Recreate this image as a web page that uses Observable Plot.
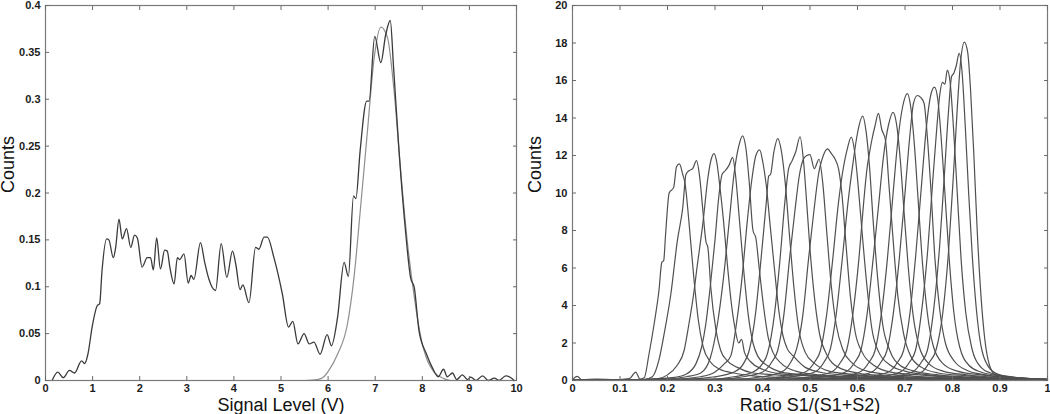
<!DOCTYPE html>
<html><head><meta charset="utf-8">
<script src="https://cdn.jsdelivr.net/npm/d3@7"></script>
<script src="https://cdn.jsdelivr.net/npm/@observablehq/plot@0.6"></script>
<style>
body{margin:0;background:#fff;}
#wrap{display:flex;width:1050px;height:414px;}
#wrap svg{display:block;}
</style></head><body><div id="wrap"></div>
<script>
// ---------- Left panel: signal level histogram ----------
const signalX = [0.14,0.26,0.375,0.51,0.616,0.765,0.83,0.9,0.99,1.1,1.15,1.2,1.3,1.345,1.44,1.49,1.56,1.63,1.72,1.81,1.89,1.95,2.05,2.16,2.23,2.29,2.36,2.44,2.53,2.585,2.64,2.73,2.8,2.85,2.94,3.03,3.09,3.15,3.29,3.38,3.47,3.61,3.73,3.85,3.97,4.04,4.13,4.19,4.32,4.46,4.53,4.64,4.71,4.85,5.03,5.16,5.25,5.36,5.49,5.6,5.7,5.83,5.98,6.07,6.2,6.34,6.43,6.54,6.59,6.68,6.82,6.87,6.99,7.12,7.22,7.32,7.39,7.51,7.65,7.75,7.83,7.93,8.09,8.21,8.34,8.45,8.53,8.64,8.73,8.85,8.96,9.03,9.14,9.28,9.4,9.53,9.63,9.77,9.88,9.95];
const signalY = [0,0.0089,0.003,0.0107,0.008,0.021,0.018,0.028,0.057,0.08,0.082,0.117,0.151,0.15,0.131,0.142,0.172,0.151,0.162,0.142,0.155,0.152,0.121,0.131,0.131,0.118,0.152,0.119,0.139,0.138,0.121,0.103,0.131,0.129,0.135,0.104,0.112,0.108,0.147,0.126,0.108,0.096,0.146,0.11,0.138,0.124,0.097,0.102,0.083,0.142,0.14,0.153,0.153,0.131,0.092,0.057,0.063,0.039,0.05,0.039,0.041,0.028,0.049,0.037,0.067,0.126,0.111,0.197,0.194,0.245,0.298,0.298,0.367,0.339,0.368,0.384,0.334,0.242,0.156,0.11,0.099,0.053,0.028,0.014,0.004,0.012,0.004,0.008,0.001,0.006,0.001,0.0036,0,0.005,0,0.0025,0,0.005,0.003,0];
const fitX = [5.5,5.77,5.91,6.02,6.2,6.41,6.55,6.69,6.83,6.98,7.12,7.26,7.4,7.54,7.68,7.83,7.97,8.11,8.25,8.46,8.6];
const fitY = [0,0.001,0.004,0.011,0.028,0.06,0.11,0.185,0.263,0.345,0.377,0.366,0.309,0.224,0.149,0.089,0.046,0.021,0.009,0.002,0];
const signalTicksX = [0,1,2,3,4,5,6,7,8,9,10];
const signalTicksY = [0,0.05,0.1,0.15,0.2,0.25,0.3,0.35,0.4];

// ---------- Right panel: ratio histograms (one curve per sample) ----------
const r01 = [[0,0.05],[0.01,0.22],[0.02,0.03],[0.05,0.08],[0.09,0.04],[0.12,0.1],[0.133,0.45],[0.142,0.08],[0.151,0.15],[0.161,1.4],[0.173,3.2],[0.182,4.8],[0.188,6.3],[0.192,6.4],[0.196,7.8],[0.2035,10.0],[0.213,10.3],[0.219,11.4],[0.225,11.55],[0.232,11.0],[0.237,10.5],[0.245,8.5],[0.255,5.6],[0.265,3.2],[0.275,1.8],[0.29,1.0],[0.31,0.6],[0.34,0.4],[0.38,0.25],[0.45,0.15],[0.55,0.1],[0.7,0.06],[0.85,0.08],[1,0.03]];
const r02 = [[0,0.02],[0.08,0.05],[0.15,0.04],[0.168,0.2],[0.182,1.1],[0.193,2.5],[0.207,4.6],[0.221,7.5],[0.232,9.2],[0.239,11.0],[0.246,11.2],[0.253,11.3],[0.261,11.73],[0.268,10.8],[0.274,9.2],[0.281,7.4],[0.285,7.1],[0.291,5.0],[0.302,2.7],[0.312,1.6],[0.326,1.05],[0.347,0.7],[0.38,0.4],[0.43,0.3],[0.5,0.15],[0.65,0.1],[0.8,0.06],[1,0.04]];
const r03 = [[0,0.03],[0.12,0.04],[0.18,0.1],[0.2,0.3],[0.22,0.8],[0.235,1.6],[0.245,3.0],[0.255,4.6],[0.262,6.0],[0.275,8.5],[0.285,10.8],[0.292,11.8],[0.298,12.1],[0.304,11.6],[0.31,10.4],[0.318,8.5],[0.326,6.2],[0.334,4.2],[0.342,2.8],[0.35,2.0],[0.356,2.2],[0.362,1.5],[0.375,1.0],[0.4,0.6],[0.44,0.35],[0.5,0.25],[0.6,0.15],[0.75,0.08],[1,0.04]];
const r04 = [[0,0.04],[0.15,0.05],[0.21,0.15],[0.24,0.35],[0.26,0.9],[0.272,1.8],[0.28,2.9],[0.29,5.0],[0.3,7.5],[0.308,9.8],[0.315,11.0],[0.322,11.2],[0.33,11.5],[0.337,11.9],[0.343,11.0],[0.35,9.0],[0.36,6.0],[0.37,3.5],[0.38,2.0],[0.39,1.3],[0.41,0.8],[0.44,0.45],[0.49,0.3],[0.56,0.2],[0.7,0.1],[0.85,0.06],[1,0.03]];
const r05 = [[0,0.03],[0.18,0.05],[0.24,0.2],[0.27,0.4],[0.29,1.2],[0.305,3.0],[0.318,5.5],[0.33,8.5],[0.34,11.0],[0.35,12.5],[0.358,13.05],[0.365,12.4],[0.372,10.6],[0.38,8.0],[0.386,7.6],[0.393,6.0],[0.402,4.0],[0.412,2.3],[0.422,1.5],[0.44,0.9],[0.47,0.5],[0.52,0.3],[0.6,0.2],[0.75,0.1],[1,0.04]];
const r06 = [[0,0.04],[0.2,0.05],[0.27,0.2],[0.3,0.45],[0.32,0.9],[0.333,1.3],[0.345,3.0],[0.357,5.5],[0.368,8.5],[0.378,10.8],[0.386,12.0],[0.394,12.3],[0.401,11.6],[0.408,10.4],[0.416,8.3],[0.425,6.0],[0.434,3.8],[0.443,2.4],[0.452,1.7],[0.465,1.3],[0.49,0.7],[0.53,0.4],[0.6,0.25],[0.75,0.12],[1,0.05]];
const r07 = [[0,0.03],[0.23,0.06],[0.3,0.2],[0.34,0.45],[0.36,0.9],[0.372,1.6],[0.385,3.5],[0.397,6.5],[0.408,9.5],[0.413,10.9],[0.417,11.0],[0.424,12.2],[0.432,12.9],[0.44,12.2],[0.448,10.5],[0.456,8.0],[0.466,5.0],[0.476,2.8],[0.49,1.5],[0.51,0.9],[0.54,0.5],[0.58,0.35],[0.65,0.2],[0.8,0.1],[1,0.04]];
const r08 = [[0,0.04],[0.28,0.06],[0.34,0.2],[0.38,0.45],[0.4,0.9],[0.41,1.4],[0.425,3.5],[0.437,6.5],[0.447,9.5],[0.455,11.3],[0.462,11.7],[0.47,12.2],[0.479,13.0],[0.486,11.8],[0.493,9.5],[0.5,7.0],[0.51,4.3],[0.52,2.5],[0.535,1.4],[0.56,0.7],[0.6,0.4],[0.66,0.25],[0.75,0.15],[0.9,0.08],[1,0.04]];
const r09 = [[0,0.03],[0.3,0.05],[0.36,0.2],[0.4,0.45],[0.42,1.0],[0.432,1.6],[0.445,3.5],[0.457,6.5],[0.468,9.0],[0.478,11.0],[0.486,11.8],[0.493,12.0],[0.5,12.05],[0.509,11.3],[0.519,11.8],[0.527,10.5],[0.535,8.0],[0.545,5.0],[0.555,3.0],[0.57,1.6],[0.59,0.9],[0.62,0.5],[0.68,0.3],[0.78,0.15],[1,0.05]];
const r10 = [[0,0.04],[0.33,0.06],[0.4,0.2],[0.44,0.45],[0.46,1.0],[0.472,1.7],[0.485,3.5],[0.497,6.5],[0.508,9.0],[0.518,11.0],[0.528,12.0],[0.537,12.35],[0.545,12.1],[0.553,11.8],[0.56,11.3],[0.567,10.0],[0.575,7.5],[0.585,4.5],[0.595,2.6],[0.61,1.5],[0.635,0.8],[0.67,0.45],[0.73,0.3],[0.82,0.15],[1,0.05]];
const r11 = [[0,0.03],[0.38,0.06],[0.44,0.2],[0.49,0.45],[0.51,1.0],[0.522,1.6],[0.535,3.5],[0.548,6.5],[0.56,9.5],[0.568,11.0],[0.578,12.3],[0.587,12.98],[0.594,12.2],[0.601,10.5],[0.61,7.8],[0.62,5.0],[0.63,2.8],[0.645,1.5],[0.67,0.8],[0.7,0.5],[0.75,0.3],[0.84,0.15],[1,0.05]];
const r12 = [[0,0.04],[0.4,0.06],[0.46,0.2],[0.51,0.45],[0.53,1.0],[0.543,1.7],[0.555,3.5],[0.568,6.5],[0.58,9.5],[0.59,11.5],[0.6,13.2],[0.611,14.1],[0.618,13.3],[0.625,11.5],[0.633,8.5],[0.643,5.3],[0.653,3.0],[0.668,1.6],[0.69,0.8],[0.72,0.5],[0.77,0.3],[0.86,0.15],[1,0.05]];
const r13 = [[0,0.03],[0.43,0.06],[0.5,0.2],[0.545,0.45],[0.565,1.0],[0.577,1.6],[0.59,3.5],[0.603,6.5],[0.613,9.5],[0.62,11.3],[0.625,12.1],[0.63,12.8],[0.637,13.6],[0.644,14.25],[0.651,13.4],[0.659,12.8],[0.666,10.5],[0.675,7.5],[0.685,4.5],[0.697,2.5],[0.712,1.3],[0.735,0.7],[0.77,0.4],[0.83,0.25],[0.9,0.12],[1,0.05]];
const r14 = [[0,0.04],[0.46,0.06],[0.53,0.2],[0.575,0.45],[0.595,1.0],[0.607,1.6],[0.62,3.5],[0.633,6.5],[0.645,9.5],[0.655,12.0],[0.665,13.6],[0.675,14.3],[0.682,13.7],[0.69,11.8],[0.698,9.0],[0.707,6.0],[0.717,3.5],[0.73,1.8],[0.75,0.9],[0.78,0.5],[0.83,0.3],[0.9,0.15],[1,0.05]];
const r15 = [[0,0.03],[0.5,0.06],[0.56,0.2],[0.605,0.45],[0.625,1.0],[0.637,1.6],[0.65,3.5],[0.663,6.5],[0.675,10.0],[0.685,12.8],[0.695,14.6],[0.705,15.3],[0.712,14.6],[0.72,12.5],[0.728,9.5],[0.737,6.2],[0.747,3.6],[0.76,1.8],[0.78,0.9],[0.81,0.5],[0.86,0.3],[0.92,0.15],[1,0.06]];
const r16 = [[0,0.04],[0.52,0.06],[0.59,0.2],[0.63,0.45],[0.65,1.0],[0.662,1.6],[0.675,3.5],[0.688,6.5],[0.7,10.0],[0.71,13.0],[0.718,14.8],[0.726,15.2],[0.733,15.1],[0.74,14.8],[0.747,13.0],[0.755,10.0],[0.763,6.5],[0.773,3.8],[0.785,2.0],[0.805,1.0],[0.83,0.55],[0.87,0.3],[0.93,0.15],[1,0.06]];
const r17 = [[0,0.03],[0.55,0.06],[0.62,0.2],[0.665,0.45],[0.685,1.0],[0.697,1.6],[0.71,3.5],[0.723,6.8],[0.735,10.5],[0.745,13.5],[0.754,15.2],[0.762,15.65],[0.769,15.0],[0.776,13.0],[0.784,10.0],[0.793,6.5],[0.803,3.6],[0.815,1.8],[0.835,0.8],[0.86,0.45],[0.9,0.25],[0.95,0.12],[1,0.06]];
const r18 = [[0,0.04],[0.58,0.06],[0.65,0.2],[0.69,0.45],[0.71,1.0],[0.722,1.6],[0.735,3.7],[0.748,7.0],[0.758,10.5],[0.767,13.5],[0.773,15.2],[0.779,15.9],[0.784,15.8],[0.789,16.55],[0.795,15.9],[0.802,13.5],[0.81,10.0],[0.818,6.5],[0.828,3.6],[0.84,1.8],[0.86,0.7],[0.88,0.4],[0.92,0.2],[1,0.06]];
const r19 = [[0,0.03],[0.6,0.06],[0.67,0.2],[0.715,0.45],[0.735,1.0],[0.747,1.6],[0.76,3.7],[0.773,7.2],[0.783,11.0],[0.792,14.5],[0.798,16.2],[0.803,16.4],[0.808,16.8],[0.814,17.45],[0.82,16.5],[0.827,13.5],[0.834,10.0],[0.842,6.5],[0.851,3.6],[0.862,1.6],[0.88,0.6],[0.9,0.3],[0.94,0.15],[1,0.06]];
const r20 = [[0,0.04],[0.62,0.06],[0.69,0.2],[0.735,0.45],[0.752,1.0],[0.765,1.6],[0.78,3.7],[0.792,7.0],[0.802,11.0],[0.81,14.5],[0.817,17.0],[0.825,18.05],[0.832,17.5],[0.838,15.5],[0.845,12.0],[0.852,8.0],[0.86,4.5],[0.868,2.2],[0.878,0.8],[0.89,0.3],[0.91,0.15],[0.95,0.08],[1,0.04]];
const ratioTicksX = [0,0.1,0.2,0.3,0.4,0.5,0.6,0.7,0.8,0.9,1];
const ratioTicksY = [0,2,4,6,8,10,12,14,16,18,20];

const signalXLabel = "Signal Level (V)";
const ratioXLabel = "Ratio S1/(S1+S2)";
const countsLabel = "Counts";

// ---------- build ----------
const FONT = "'Liberation Sans', Arial, Helvetica, sans-serif";
const fmt = d => String(+d.toFixed(2));
const TICK = "#6a6a6a";

function panel({ml, mr, xDomain, yDomain, xTicks, yTicks, xLabel, yLabel, marks}) {
  return Plot.plot({
    width: 525, height: 414,
    marginLeft: ml, marginRight: mr, marginTop: 5, marginBottom: 34,
    style: {fontFamily: FONT, fontSize: "11px", background: "#fff", overflow: "visible"},
    x: {domain: xDomain, axis: null},
    y: {domain: yDomain, axis: null},
    marks: [
      ...marks,
      Plot.frame({stroke: "#7a7a7a", strokeWidth: 1.2}),
      Plot.axisX({ticks: xTicks, anchor: "bottom", tickSize: 4, dy: -4, tickFormat: () => "", stroke: TICK, label: null}),
      Plot.axisX({ticks: xTicks, anchor: "top", tickSize: 4, dy: 4, tickFormat: () => "", stroke: TICK, label: null}),
      Plot.axisY({ticks: yTicks, anchor: "left", tickSize: 4, dx: 4, tickFormat: () => "", stroke: TICK, label: null}),
      Plot.axisY({ticks: yTicks, anchor: "right", tickSize: 4, dx: -4, tickFormat: () => "", stroke: TICK, label: null}),
      Plot.axisX({ticks: xTicks, anchor: "bottom", tickSize: 0, tickPadding: 4, tickFormat: fmt, fontWeight: "bold", fill: "#1c1c1c", label: null}),
      Plot.axisY({ticks: yTicks, anchor: "left", tickSize: 0, tickPadding: 5, tickFormat: fmt, fontWeight: "bold", fill: "#1c1c1c", label: null}),
      Plot.text([xLabel], {text: d => d, frameAnchor: "bottom", dy: 30, lineAnchor: "bottom", fontSize: 18, fill: "#111"}),
      Plot.text([yLabel], {text: d => d, frameAnchor: "left", dx: -37, rotate: -90, lineAnchor: "middle", fontSize: 18, fill: "#111"})
    ]
  });
}

const signalData = signalX.map((x, i) => ({x, y: signalY[i]}));
const fitData = fitX.map((x, i) => ({x, y: fitY[i]}));

const left = panel({
  ml: 45, mr: 9, xDomain: [0, 10], yDomain: [0, 0.4],
  xTicks: signalTicksX, yTicks: signalTicksY, xLabel: signalXLabel, yLabel: countsLabel,
  marks: [
    Plot.line(fitData, {x: "x", y: "y", stroke: "#8e8e8e", strokeWidth: 1.2, curve: "monotone-x"}),
    Plot.line(signalData, {x: "x", y: "y", stroke: "#3a3a3a", strokeWidth: 1.3, curve: "monotone-x"})
  ]
});

const ratioCurves = [r01,r02,r03,r04,r05,r06,r07,r08,r09,r10,r11,r12,r13,r14,r15,r16,r17,r18,r19,r20];
const ratioData = ratioCurves.flatMap((c, i) => c.map(([x, y]) => ({id: i, x, y})));

const right = panel({
  ml: 47, mr: 3, xDomain: [0, 1], yDomain: [0, 20],
  xTicks: ratioTicksX, yTicks: ratioTicksY, xLabel: ratioXLabel, yLabel: countsLabel,
  marks: [
    Plot.line(ratioData, {x: "x", y: "y", z: "id", stroke: "#505050", strokeWidth: 1.2, curve: "monotone-x"})
  ]
});

const wrap = document.getElementById("wrap");
wrap.appendChild(left);
wrap.appendChild(right);
</script></body></html>
